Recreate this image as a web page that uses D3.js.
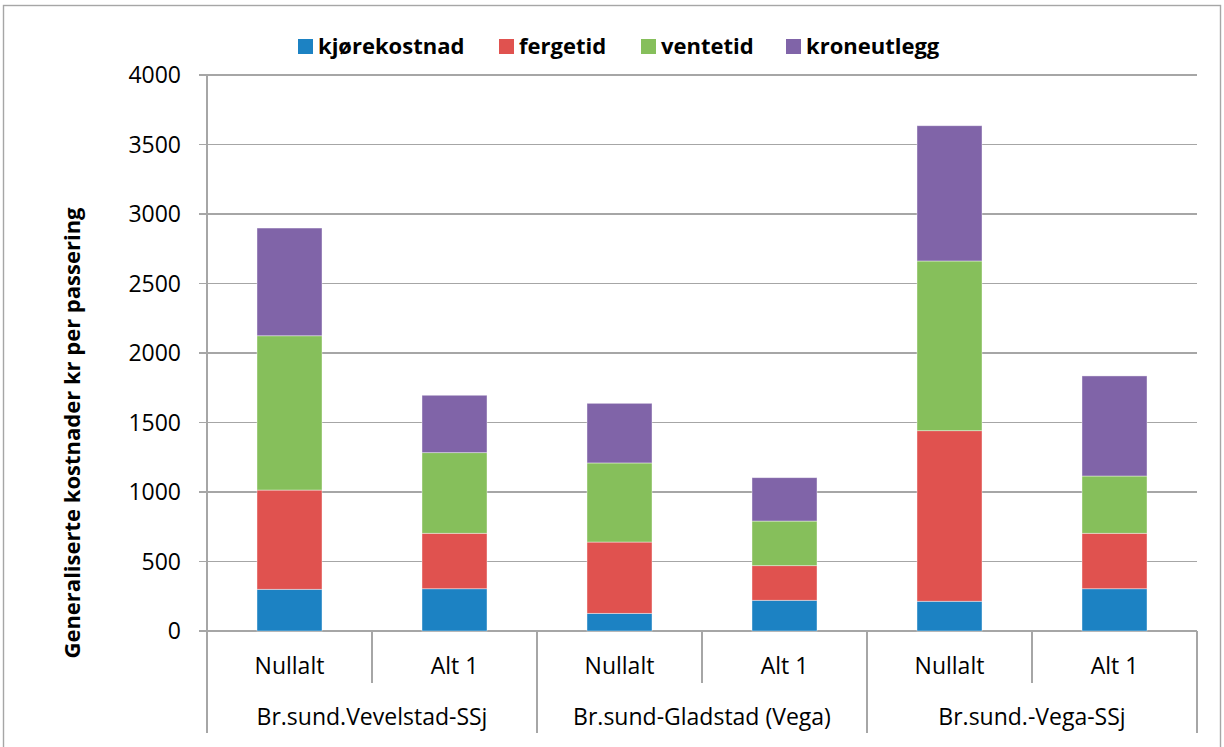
<!DOCTYPE html>
<html lang="no">
<head>
  <meta charset="UTF-8">
  <title>Generaliserte kostnader</title>
  <script src="https://cdnjs.cloudflare.com/ajax/libs/d3/7.8.5/d3.min.js"></script>
  <style>
    body {
      margin: 0;
      background: white;
    }
    svg {
      display: block;
      font-family: "Open Sans", Lato, sans-serif;
    }
    .tick-label {
      font-size: 23px;
      fill: #000;
    }
    .legend-label {
      font-size: 22px;
      font-weight: bold;
    }
    .axis-title {
      font-size: 22px;
      font-weight: bold;
    }
    .grid {
      stroke: #a6a6a6;
      stroke-width: 1.4;
      shape-rendering: crispEdges;
    }
  </style>
</head>
<body>
  <script>
    // data
    var groups = ["Br.sund.Vevelstad-SSj", "Br.sund-Gladstad (Vega)", "Br.sund.-Vega-SSj"];
    var alternatives = ["Nullalt", "Alt 1"];
    var series = ["kjørekostnad", "fergetid", "ventetid", "kroneutlegg"];
    var colors = ["#1c82c3", "#e0524f", "#86bf5b", "#8064a8"];

    var kjorekostnad = [300, 304, 127, 221, 214, 304];
    var fergetid = [714, 399, 513, 249, 1227, 399];
    var ventetid = [1110, 580, 569, 321, 1221, 412];
    var kroneutlegg = [775, 413, 429, 312, 973, 720];

    var yTicks = [0, 500, 1000, 1500, 2000, 2500, 3000, 3500, 4000];

    var w = 1224;
    var h = 747;
    var plotLeft = 207, plotRight = 1197, plotTop = 75, plotBottom = 631;

    var rows = [];
    groups.forEach(function(g, gi) {
      alternatives.forEach(function(a, ai) {
        var i = gi * alternatives.length + ai;
        rows.push({
          key: g + "|" + a,
          group: g,
          alt: a,
          "kjørekostnad": kjorekostnad[i],
          "fergetid": fergetid[i],
          "ventetid": ventetid[i],
          "kroneutlegg": kroneutlegg[i]
        });
      });
    });

    var svg = d3.select("body").append("svg")
      .attr("width", w)
      .attr("height", h);

    // outer frame
    svg.append("rect")
      .attr("x", 3.5)
      .attr("y", 5.5)
      .attr("width", 1217)
      .attr("height", 800)
      .attr("fill", "none")
      .attr("stroke", "#a6a6a6")
      .attr("stroke-width", 1.4);

    var x = d3.scaleBand()
      .domain(rows.map(function(d) { return d.key; }))
      .range([plotLeft, plotRight])
      .paddingInner(0.606)
      .paddingOuter(0.303);

    var step = (plotRight - plotLeft) / rows.length;

    var y = d3.scaleLinear()
      .domain([0, 4000])
      .range([plotBottom, plotTop]);

    // gridlines + tick marks
    svg.selectAll(".gridline")
      .data(yTicks)
      .enter()
      .append("line")
      .attr("class", "grid gridline")
      .attr("x1", plotLeft - 8)
      .attr("x2", plotRight)
      .attr("y1", function(d) { return y(d); })
      .attr("y2", function(d) { return y(d); });

    svg.selectAll(".ylab")
      .data(yTicks)
      .enter()
      .append("text")
      .attr("class", "tick-label ylab")
      .attr("x", 181)
      .attr("y", function(d) { return y(d); })
      .attr("dy", "0.35em")
      .attr("text-anchor", "end")
      .text(function(d) { return d; });

    // stacked bars
    var stack = d3.stack().keys(series);
    var layers = stack(rows);

    svg.selectAll(".layer")
      .data(layers)
      .enter()
      .append("g")
      .attr("class", "layer")
      .attr("fill", function(d, i) { return colors[i]; })
      .selectAll("rect")
      .data(function(d) { return d; })
      .enter()
      .append("rect")
      .attr("x", function(d) { return x(d.data.key); })
      .attr("y", function(d) { return y(d[1]); })
      .attr("width", x.bandwidth())
      .attr("height", function(d) { return y(d[0]) - y(d[1]); })
      .attr("stroke", "rgba(255,255,255,0.5)")
      .attr("stroke-width", 0.8);

    // y axis line
    svg.append("line")
      .attr("class", "grid")
      .attr("x1", plotLeft)
      .attr("x2", plotLeft)
      .attr("y1", plotTop)
      .attr("y2", 733);

    // category separators
    d3.range(rows.length + 1).forEach(function(i) {
      var isGroupEdge = i % alternatives.length === 0;
      svg.append("line")
        .attr("class", "grid")
        .attr("x1", plotLeft + i * step)
        .attr("x2", plotLeft + i * step)
        .attr("y1", plotBottom)
        .attr("y2", isGroupEdge ? 733 : 683);
    });

    svg.selectAll(".altlab")
      .data(rows)
      .enter()
      .append("text")
      .attr("class", "tick-label altlab")
      .attr("x", function(d) { return x(d.key) + x.bandwidth() / 2; })
      .attr("y", 666)
      .attr("dy", "0.35em")
      .attr("text-anchor", "middle")
      .text(function(d) { return d.alt; });

    svg.selectAll(".grouplab")
      .data(groups)
      .enter()
      .append("text")
      .attr("class", "tick-label grouplab")
      .attr("x", function(d, i) { return plotLeft + (i + 0.5) * step * alternatives.length; })
      .attr("y", 717)
      .attr("dy", "0.35em")
      .attr("text-anchor", "middle")
      .text(function(d) { return d; });

    // y axis title
    svg.append("text")
      .attr("class", "axis-title")
      .attr("transform", "translate(80,433) rotate(-90)")
      .attr("text-anchor", "middle")
      .text("Generaliserte kostnader kr per passering");

    // legend
    var legendX = [298, 499, 641, 786];
    var legend = svg.selectAll(".legend")
      .data(series)
      .enter()
      .append("g")
      .attr("class", "legend")
      .attr("transform", function(d, i) { return "translate(" + legendX[i] + ",46)"; });

    legend.append("rect")
      .attr("x", 0)
      .attr("y", -7)
      .attr("width", 15)
      .attr("height", 15)
      .attr("fill", function(d, i) { return colors[i]; });

    legend.append("text")
      .attr("class", "legend-label")
      .attr("x", 20)
      .attr("dy", "0.35em")
      .text(function(d) { return d; });
  </script>
</body>
</html>
